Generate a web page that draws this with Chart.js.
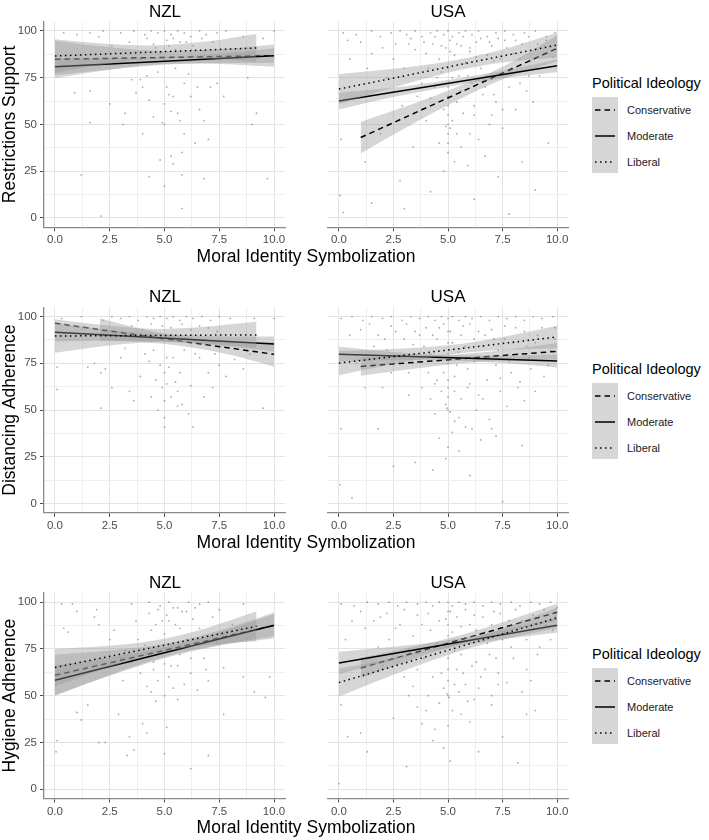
<!DOCTYPE html>
<html>
<head>
<meta charset="utf-8">
<script src="https://cdn.jsdelivr.net/npm/chart.js@4.4.1/dist/chart.umd.min.js"></script>
<style>
  body { margin: 0; background: #fff; font-family: "Liberation Sans", Arial, sans-serif; }
  #fig { position: relative; width: 709px; height: 840px; overflow: hidden; }
  #fig canvas { position: absolute; }
  .t { position: absolute; transform: translate(-50%, -50%); white-space: nowrap; color: #000; line-height: 1; }
  .ptitle { font-size: 17px; }
  .xtitle { font-size: 17.5px; }
  .leg { position: absolute; left: 592px; }
  .leg .lt { font-size: 14.5px; color: #000; white-space: nowrap; line-height: 1; }
  .leg .key { position: absolute; left: 0; width: 26px; height: 76px; background: #d6d6d6; }
  .leg .lab { position: absolute; left: 35px; font-size: 11px; color: #1a1a1a; line-height: 1; transform: translateY(-50%); }
</style>
</head>
<body>
<div id="fig"></div>
<script>
"use strict";

const ideologies = ['Conservative', 'Moderate', 'Liberal'];
const countries = ['NZL', 'USA'];
const outcomes = ['Restrictions Support', 'Distancing Adherence', 'Hygiene Adherence'];
const xAxisTitle = 'Moral Identity Symbolization';
const legendTitle = 'Political Ideology';
const xTicks = [0, 1.25, 2.5, 3.75, 5, 6.25, 7.5, 8.75, 10];
const yTicks = [0, 12.5, 25, 37.5, 50, 62.5, 75, 87.5, 100];

// fitted lines per ideology: [x start, y start, x end, y end]
const restrNZL_fit = [[0, 84.8, 10, 86.8], [0, 80.9, 10, 86.8], [0, 86.6, 9.2, 90.9]];
const restrNZL_bandX = [[0, 2.5, 5, 7.5, 10], [0, 2.5, 5, 7.5, 10], [0, 2.3, 4.6, 6.9, 9.2]];
const restrNZL_lo = [[74.8, 79.3, 82.3, 82.3, 80.8], [76.4, 79.4, 81.9, 82.8, 82.8], [77.6, 82.2, 85.3, 85.3, 83.4]];
const restrNZL_hi = [[94.8, 91.3, 89.3, 90.3, 92.8], [85.4, 85.4, 85.9, 87.8, 90.8], [95.6, 93.2, 92.3, 94.3, 98.4]];

const restrUSA_fit = [[1, 43, 10, 90.7], [0, 62.5, 10, 81.4], [0, 68.9, 10, 92.5]];
const restrUSA_bandX = [[1, 3.25, 5.5, 7.75, 10], [0, 2.5, 5, 7.5, 10], [0, 2.5, 5, 7.5, 10]];
const restrUSA_lo = [[34.5, 49.4, 63.4, 75.3, 83.7], [58, 64.7, 70.2, 74.7, 77.9], [60.9, 69.8, 77.7, 83.1, 86]];
const restrUSA_hi = [[51.5, 60.4, 70.4, 82.3, 97.7], [67, 69.7, 73.8, 78.7, 84.9], [76.9, 79.8, 83.7, 90.1, 99]];

const distNZL_fit = [[0, 96.4, 10, 79.8], [0, 91.6, 10, 85.3], [0, 89.6, 9.2, 90.2]];
const distNZL_bandX = [[2.05, 4, 6, 8, 10], [0, 2.5, 5, 7.5, 10], [0, 2.3, 4.6, 6.9, 9.2]];
const distNZL_lo = [[87, 86.3, 83.9, 79.6, 73.2], [86.6, 87, 86.5, 84.4, 81.3], [80.6, 84.3, 86.4, 85.6, 83.2]];
const distNZL_hi = [[99, 93.3, 88.9, 86.6, 86.4], [96.6, 93, 90.5, 89.4, 89.3], [98.6, 95.3, 93.4, 94.6, 97.2]];

const distUSA_fit = [[1, 73.3, 10, 81.4], [0, 79.8, 10, 76.2], [0, 75.1, 10, 89.1]];
const distUSA_bandX = [[1, 3.25, 5.5, 7.75, 10], [0, 2.5, 5, 7.5, 10], [0, 2.5, 5, 7.5, 10]];
const distUSA_lo = [[68.3, 71.8, 74.9, 76.4, 76.9], [75.8, 76.7, 76.5, 75.1, 72.7], [68.6, 74.6, 79.6, 82.1, 83.1]];
const distUSA_hi = [[78.3, 78.8, 79.9, 82.4, 85.9], [83.8, 81.1, 79.5, 79.1, 79.7], [81.6, 82.6, 84.6, 89.1, 95.1]];

const hygNZL_fit = [[0, 60.9, 10, 87.5], [0, 58.2, 10, 87.7], [0, 65, 9.2, 87.1]];
const hygNZL_bandX = [[0, 2.5, 5, 7.5, 10], [0, 2.5, 5, 7.5, 10], [0, 2.3, 4.6, 6.9, 9.2]];
const hygNZL_lo = [[49.9, 61.1, 70.7, 76.9, 80.5], [50.2, 60.6, 70, 76.8, 81.7], [55, 64.5, 72.6, 77.1, 79.1]];
const hygNZL_hi = [[71.9, 74.1, 77.7, 84.9, 94.5], [66.2, 70.6, 76, 83.8, 93.7], [75, 76.5, 79.6, 86.1, 95.1]];

const hygUSA_fit = [[1, 64.8, 10, 94.6], [0, 67.5, 10, 87.7], [0, 57, 10, 91.6]];
const hygUSA_bandX = [[1, 3.25, 5.5, 7.75, 10], [0, 2.5, 5, 7.5, 10], [0, 2.5, 5, 7.5, 10]];
const hygUSA_lo = [[59.3, 68.8, 77.2, 84.2, 90.1], [61.5, 69.1, 75.6, 80.2, 83.7], [49.5, 61.2, 71.8, 80, 86.1]];
const hygUSA_hi = [[70.3, 75.8, 82.2, 90.2, 99.1], [73.5, 76.1, 79.6, 85.2, 91.7], [64.5, 70.2, 76.8, 86, 97.1]];

// raw responses (a subset)
const restrNZL_pts = [[0.4,99],[1,98],[1.6,99],[2,97],[2.2,100],[3,99],[3.6,100],[4.1,98],[4.4,100],[4.7,99],[5,100],[5.3,98],[5.6,100],[5.9,99],[6.2,97],[6.6,100],[6.9,98],[7.4,99],[7.8,100],[8.6,97],[9.5,96],[10,100],
  [4.5,93],[5.2,92],[4.8,88],[5.5,90],[6,94],[3.9,85],[6.8,89],
  [4.2,96],[4.6,91],[5.1,95],[5.4,96],[5.7,94],[6.3,92],[6.7,96],[7.2,94],[3.4,94],[2.6,92],[5.5,80],[4.7,78],[6.1,77],[5.9,72],[4.2,76],[5.2,66],[6.5,70],[3.5,74],
  [0.9,67],[1.6,68],[2.5,61],[3.2,56],[3.7,67],[3.9,74],[4,70],[4.3,63],[4.5,54],[4.9,51],[5,50],[5,61],[5.1,70],[5.3,57],[5.4,65],[5.6,56],[5.7,52],[5.9,45],[6.2,65],[6.4,40],[6.6,58],[6.8,52],[7,42],[7.1,70],[7.4,72],[7.7,65],[8.8,75],[9.2,56],[9,50],
  [1.6,51],[3.1,50],[4,45],[4.8,31],[5.3,33],[5.4,29],[5.8,35],[1.2,23],[4.3,22],[5,17],[5.8,5],[5.8,23],[6.8,21],[9.7,21],[2.1,1]];
const restrUSA_pts = [[0.2,99],[0.8,98],[1.5,100],[1.9,97],[2.4,99],[2.8,100],[3.1,98],[3.5,100],[3.8,97],[4.2,99],[4.5,100],[4.8,98],[5,100],[5.2,97],[5.5,99],[5.8,100],[6.1,98],[6.4,100],[6.8,97],[7.2,99],[7.6,100],[8,98],[8.5,99],[9,100],[9.5,97],[9.9,99],
  [3.5,90],[4,88],[4.3,93],[4.6,85],[4.9,91],[5,80],[5,70],[5,60],[5.1,95],[5.3,87],[5.5,76],[5.6,92],[5.8,83],[6,89],[6.1,72],[6.3,94],[6.5,80],[6.6,66],[6.8,87],[7,92],[7,74],[7.2,62],[7.4,85],[7.6,95],[7.8,70],[8,88],[8.2,78],[8.4,93],[8.6,68],[8.8,84],[9,90],[9.2,76],[9.5,95],[9.8,86],
  [3.3,96],[3.9,94],[4.4,97],[4.7,92],[5.1,89],[5.4,93],[5.7,97],[6,91],[6.3,86],[6.5,96],[6.9,94],[7.1,84],[7.3,96],[7.7,91],[8.1,95],[8.3,85],[8.7,97],[9.1,93],[9.4,88],[9.7,92],
  [4.1,80],[4.4,70],[4.7,78],[5,65],[5,55],[5,45],[5,40],[5.2,75],[5.4,62],[5.6,68],[5.9,76],[6.2,60],[6.4,74],[6.7,70],[7.1,66],[7.5,58],[7.9,80],[8.3,72],[8.7,76],[9.3,80],[2.2,75],[2.6,93],[1.3,80],[0.4,95],[3.6,65],[2.9,60],[4,52],[5.6,38],[6,45],[7,55],
  [2.5,85],[3,80],[3.2,93],[2,91],[1.5,88],[1,94],[0.5,85],[3.8,72],[4.2,64],[4.5,75],[4.8,58],[5.2,52],[5,50],[4.9,49],[5.1,48],[5.4,45],[5.7,56],[6.2,55],[6.4,42],[6.9,50],[7.5,48],[8.1,58],[8.9,62],
  [4.6,40],[5,35],[5.3,30],[4.8,25],[5.9,28],[6.7,33],[7.3,22],[3.4,38],[2.8,20],[1.9,45],[1.2,30],[0.1,42],[0.05,12],[0.2,3],[1.5,8],[3,5],[6.2,10],[7.8,2],[9,15],[9.6,40],[8.4,30],[4.2,14]];
const distNZL_pts = [[0.3,99],[1.2,100],[2.2,98],[2.6,100],[3,99],[3.4,100],[3.8,98],[4.2,100],[4.5,99],[4.8,100],[5.1,99],[5.4,100],[5.7,98],[6,100],[6.3,99],[6.7,100],[7.1,98],[7.5,100],[8,99],[9.1,99],[10,99],
  [3.5,95],[4,93],[4.4,96],[4.9,95],[5.3,94],[5.8,96],[6.2,93],[6.6,95],[7,94],[7.4,92],[4.5,82],[5.4,78],[6.4,80],[4.8,74],[5.1,64],[5.6,60],[7.3,80],[3,78],
  [0.1,73],[0.1,61],[1.5,73],[2.1,70],[2.3,72],[2.6,62],[3.4,60],[3.6,55],[3.9,68],[4.1,80],[4.3,76],[4.4,57],[4.6,66],[4.7,50],[4.9,62],[5,70],[5,55],[5,46],[5,41],[5.1,78],[5.2,73],[5.3,57],[5.5,65],[5.6,52],[5.7,70],[5.8,53],[6.1,48],[6.3,41],[6.2,63],[6.6,78],[6.8,57],[7,70],[7.2,62],[7.5,74],[7.8,68],[8.2,77],[8.6,72],[9.5,51],[8.9,80],[2.1,51],[1.8,75],[3.2,83],[5.9,82]];
const distUSA_pts = [[0.1,99],[0.6,100],[1.1,98],[1.5,100],[2,99],[2.4,100],[2.9,98],[3.3,100],[3.7,99],[4.1,100],[4.4,98],[4.7,100],[5,99],[5.2,100],[5.5,98],[5.8,100],[6.1,99],[6.5,100],[6.9,98],[7.3,100],[7.7,99],[8.1,100],[8.5,98],[8.9,100],[9.3,99],[9.8,100],
  [1,93],[1.8,90],[2.4,95],[3,88],[3.5,92],[3.9,84],[4.3,90],[4.6,94],[4.8,70],[5,86],[5,75],[5,62],[5.1,92],[5.3,68],[5.5,81],[5.7,95],[5.9,72],[6,64],[6.2,88],[6.4,58],[6.6,84],[6.8,66],[7,93],[7.2,74],[7.4,60],[7.6,88],[7.9,70],[8.1,94],[8.3,65],[8.6,84],[8.8,72],[9.1,90],[9.4,68],[9.7,82],[9.9,94],
  [1.4,96],[2.1,88],[2.6,92],[3.1,96],[3.4,85],[3.7,90],[4,94],[4.2,80],[4.5,88],[4.8,96],[5,92],[5,80],[5,66],[5,57],[5.2,86],[5.4,74],[5.6,90],[5.8,84],[6,96],[6.2,76],[6.4,92],[6.7,90],[6.9,78],[7.1,88],[7.3,82],[7.6,95],[7.8,76],[8,86],[8.2,80],[8.5,92],[8.7,78],[9,86],[9.3,94],[9.6,74],[9.9,88],
  [4.1,70],[4.7,60],[5.3,60],[5.9,62],[6.6,56],[7.4,67],[8.2,62],[9,60],[3.6,76],[2.4,70],[1.6,84],[0.5,90],[4.4,64],[5.5,46],[6.1,40],
  [3.2,70],[3.8,62],[4.2,56],[4.5,66],[4.4,48],[4.9,53],[5,50],[5.1,49],[4.95,51],[5.3,44],[5.6,56],[5.8,41],[6.3,50],[6.9,45],[7.7,52],[8.5,55],[2.8,78],[2.2,82],
  [0.1,40],[0.05,10],[0.6,3],[1.8,40],[2.5,20],[3.5,22],[4.3,18],[4.9,24],[5,30],[5.5,28],[6,15],[7,40],[7.2,36],[8.4,31],[7.5,1],[1.2,62],[0.8,75],[2,62],[3.2,58],[4.6,35],[5.2,38],[6.5,34]];
const hygNZL_pts = [[0.3,99],[0.8,99],[1.9,96],[3.5,99],[4.3,100],[4.8,98],[5.2,100],[5.6,97],[6.1,100],[6.6,99],[7,100],[7.5,96],[8.6,99],
  [4.3,94],[4.7,96],[5.4,97],[6,95],[6.4,97],[4.6,88],[5.2,90],[5.7,86],[3.8,80],[4.5,68],[5.3,66],[6.2,70],[6.9,64],[4.4,52],[5.6,48],[3.1,58],
  [0.4,86],[0.6,84],[1,95],[1.8,92],[2,88],[2.5,80],[2.7,85],[3,70],[3.2,74],[3.5,68],[3.7,90],[3.9,62],[4.1,77],[4.2,55],[4.4,85],[4.5,64],[4.6,72],[4.7,58],[4.9,90],[5,50],[5,67],[5,83],[5.1,93],[5.2,60],[5.3,77],[5.4,54],[5.5,88],[5.6,66],[5.7,72],[5.8,95],[5.9,56],[6,80],[6.2,62],[6.3,91],[6.5,53],[6.6,86],[6.8,70],[7,58],[7.2,92],[7.4,78],[7.7,65],[8.1,88],[8.6,60],[9.1,52],[9.8,60],
  [0.1,26],[0.05,20],[1,41],[1.2,37],[1.5,45],[2,25],[2.3,25],[2.9,40],[3.3,18],[3.4,28],[3.6,21],[4.2,30],[4.6,47],[5,19],[5.1,33],[6.2,11],[7,18],[7.7,40],[4,35],[9.6,49]];
const hygUSA_pts = [[0.1,99],[0.7,98],[1.3,100],[1.8,99],[2.3,100],[2.7,98],[3.1,100],[3.6,99],[4,100],[4.3,98],[4.6,100],[5,100],[5.2,98],[5.5,100],[5.8,99],[6.2,100],[6.6,98],[7,100],[7.4,99],[7.9,100],[8.3,98],[8.8,100],[9.2,99],[9.7,100],[10,97],
  [0.6,90],[1.2,86],[1.9,92],[2.3,80],[2.8,88],[3.2,75],[3.6,93],[3.9,70],[4.2,85],[4.5,78],[4.7,62],[4.9,91],[5,82],[5,70],[5,58],[5.1,95],[5.3,74],[5.4,64],[5.6,87],[5.8,56],[6,79],[6.2,93],[6.3,68],[6.5,60],[6.7,84],[6.9,72],[7.1,95],[7.3,62],[7.5,80],[7.8,90],[8,70],[8.3,84],[8.6,64],[8.9,93],[9.2,76],[9.5,88],[9.8,85],
  [1,95],[1.6,90],[2.2,94],[2.6,86],[3,96],[3.4,82],[3.8,88],[4.1,94],[4.4,72],[4.6,90],[4.9,76],[5,95],[5,88],[5,64],[5.2,84],[5.4,92],[5.6,72],[5.8,96],[6,88],[6.1,66],[6.3,85],[6.6,92],[6.8,78],[7,88],[7.2,70],[7.4,94],[7.6,84],[7.9,76],[8.1,96],[8.4,90],[8.6,80],[8.9,86],[9.1,72],[9.4,96],[9.7,80],[9.9,92],
  [3.6,64],[4.3,60],[4.8,54],[5.7,62],[6.7,64],[7.3,56],[8.8,58],[2.6,70],[1.8,76],[0.3,80],[5.3,56],[6.2,48],[3.2,50],[4,42],
  [2,66],[3,60],[3.4,55],[4.1,50],[4.6,46],[5,50],[5.05,49],[4.95,51],[5.2,42],[5.5,52],[5.9,47],[6.4,54],[7,50],[7.7,57],[8.4,52],[1.5,70],
  [0,3],[0.1,45],[0.4,28],[1,30],[1.3,20],[2.5,38],[3.1,12],[3.8,35],[4.3,26],[4.8,22],[5,34],[5.1,15],[5.6,40],[6,36],[6.4,20],[7,45],[7.5,28],[8.2,14],[8.6,40],[9,42],[3.6,44],[4.4,32]];

const panels = [
  [restrNZL_fit, restrNZL_bandX, restrNZL_lo, restrNZL_hi, restrNZL_pts],
  [restrUSA_fit, restrUSA_bandX, restrUSA_lo, restrUSA_hi, restrUSA_pts],
  [distNZL_fit, distNZL_bandX, distNZL_lo, distNZL_hi, distNZL_pts],
  [distUSA_fit, distUSA_bandX, distUSA_lo, distUSA_hi, distUSA_pts],
  [hygNZL_fit, hygNZL_bandX, hygNZL_lo, hygNZL_hi, hygNZL_pts],
  [hygUSA_fit, hygUSA_bandX, hygUSA_lo, hygUSA_hi, hygUSA_pts]
];

const lineDash = [[5.5, 4], [], [1.5, 3.5]];
const bandFill = 'rgba(153,153,153,0.4)';
const rowStep = 285.6;
const areaTop0 = 21.6;
const areaH = 205.7;

Chart.defaults.font.family = '"Liberation Sans", Arial, sans-serif';

const fig = document.getElementById('fig');

function addText(cls, text, x, y) {
  const d = document.createElement('div');
  d.className = 't ' + cls;
  d.style.left = x + 'px';
  d.style.top = y + 'px';
  d.textContent = text;
  fig.appendChild(d);
}

function isMajor(v, step) {
  return Math.abs(v / step - Math.round(v / step)) < 1e-6;
}

function makePanel(row, col) {
  const [fit, bandX, lo, hi, pts] = panels[row * 2 + col];
  const areaTop = areaTop0 + row * rowStep;
  const canvasTop = Math.floor(areaTop) - 10;
  const canvasH = 240;
  const xAxisH = canvasTop + canvasH - (areaTop + areaH);
  const left = col === 0 ? 0 : 300;
  const yW = col === 0 ? 44 : 28;
  const padRight = col === 0 ? 5 : 22;

  const cv = document.createElement('canvas');
  cv.width = 290;
  cv.height = canvasH;
  cv.style.left = left + 'px';
  cv.style.top = canvasTop + 'px';
  fig.appendChild(cv);

  const datasets = [{
    data: pts.map(p => ({ x: p[0], y: p[1] })),
    showLine: false,
    pointRadius: 0.9,
    pointBorderWidth: 0,
    pointBackgroundColor: 'rgba(115,115,115,0.6)',
    order: 30
  }];
  ideologies.forEach((name, g) => {
    const o = 20 - g * 3;
    datasets.push({
      data: bandX[g].map((x, i) => ({ x: x, y: lo[g][i] })),
      borderWidth: 0, pointRadius: 0, fill: false, tension: 0.35, order: o
    });
    datasets.push({
      data: bandX[g].map((x, i) => ({ x: x, y: hi[g][i] })),
      borderWidth: 0, pointRadius: 0, fill: '-1', backgroundColor: bandFill, tension: 0.35, order: o
    });
    datasets.push({
      label: name,
      data: [{ x: fit[g][0], y: fit[g][1] }, { x: fit[g][2], y: fit[g][3] }],
      borderColor: '#000', borderWidth: 1.5, borderDash: lineDash[g],
      pointRadius: 0, fill: false, order: o - 1
    });
  });

  new Chart(cv, {
    type: 'line',
    data: { datasets: datasets },
    options: {
      responsive: false,
      animation: false,
      events: [],
      layout: { padding: { top: areaTop - canvasTop, right: padRight, left: 0, bottom: 0 } },
      plugins: { legend: { display: false }, tooltip: { enabled: false } },
      scales: {
        x: {
          type: 'linear', min: -0.5, max: 10.5,
          afterBuildTicks: s => { s.ticks = xTicks.map(v => ({ value: v })); },
          afterFit: s => { s.height = xAxisH; },
          ticks: {
            autoSkip: false, maxRotation: 0, padding: 2, color: '#4d4d4d', font: { size: 11.5 },
            callback: v => isMajor(v, 2.5) ? v.toFixed(1) : ''
          },
          grid: {
            color: c => isMajor(c.tick.value, 2.5) ? '#e4e4e4' : '#efefef',
            tickColor: c => isMajor(c.tick.value, 2.5) ? '#4d4d4d' : 'rgba(0,0,0,0)',
            tickLength: 4
          },
          border: { display: true, color: '#8a8a8a', width: 1.3 }
        },
        y: {
          type: 'linear', min: -5, max: 105,
          afterBuildTicks: s => { s.ticks = yTicks.map(v => ({ value: v })); },
          afterFit: s => { s.width = yW; },
          ticks: {
            display: col === 0, padding: 3, color: '#4d4d4d', font: { size: 11.5 },
            callback: v => isMajor(v, 25) ? String(v) : ''
          },
          title: {
            display: col === 0, text: outcomes[row], color: '#000',
            font: { size: 17.5 }, padding: { top: 0, bottom: 0 }
          },
          grid: {
            color: c => isMajor(c.tick.value, 25) ? '#e4e4e4' : '#efefef',
            tickColor: c => (col === 0 && isMajor(c.tick.value, 25)) ? '#4d4d4d' : 'rgba(0,0,0,0)',
            tickLength: 4
          },
          border: { display: col === 0, color: '#8a8a8a', width: 1.3 }
        }
      }
    }
  });
}

function makeLegend(row) {
  const top = 76 + row * rowStep;
  const leg = document.createElement('div');
  leg.className = 'leg';
  leg.style.top = top + 'px';
  let html = `<div class="lt">${legendTitle}</div>`;
  html += `<div class="key" style="top:21px"><svg width="26" height="76">`;
  ideologies.forEach((name, g) => {
    const y = 13 + g * 26;
    html += `<line x1="3" x2="23" y1="${y}" y2="${y}" stroke="#000" stroke-width="1.5" stroke-dasharray="${lineDash[g].join(' ') || 'none'}"/>`;
  });
  html += `</svg></div>`;
  ideologies.forEach((name, g) => {
    html += `<div class="lab" style="top:${21 + 13 + g * 26}px">${name}</div>`;
  });
  leg.innerHTML = html;
  fig.appendChild(leg);
}

for (let row = 0; row < 3; row++) {
  makePanel(row, 0);
  makePanel(row, 1);
  addText('ptitle', countries[0], 165, 10.5 + row * rowStep);
  addText('ptitle', countries[1], 448, 10.5 + row * rowStep);
  addText('xtitle', xAxisTitle, 306, 257 + row * rowStep);
  makeLegend(row);
}
</script>
</body>
</html>
